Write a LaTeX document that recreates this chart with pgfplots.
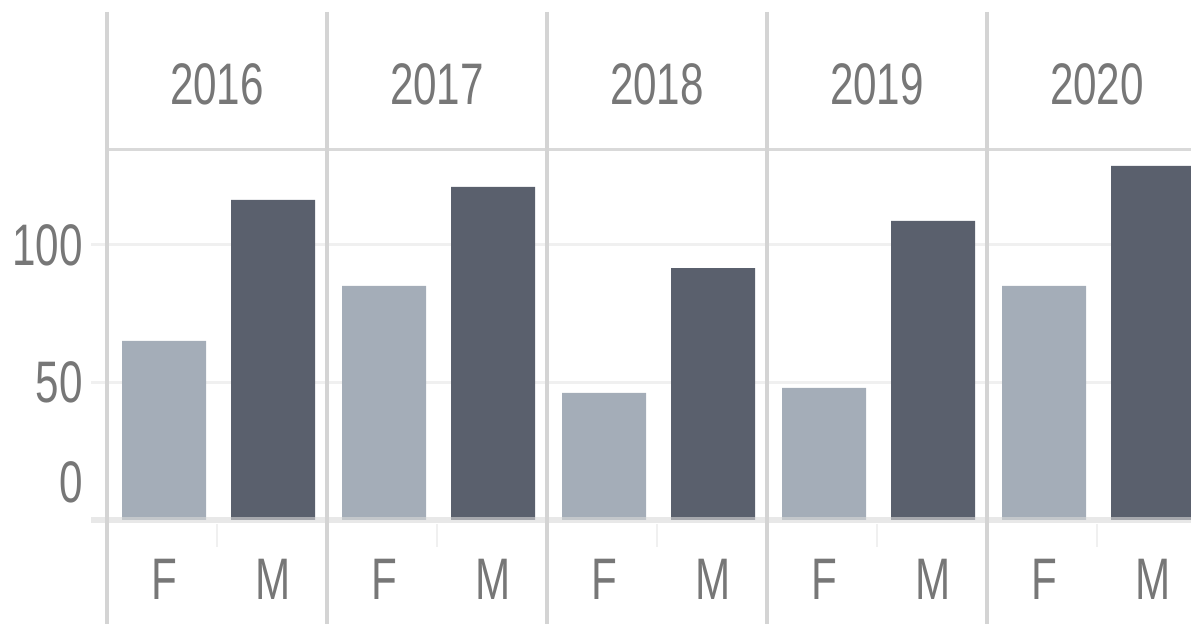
\documentclass[border=0pt]{standalone}
\usepackage{pgfplots}
\pgfplotsset{compat=1.18}
\usepackage{fontspec}
\setmainfont{Liberation Sans}
\newfontfamily\tabfont[FakeStretch=0.72]{Liberation Sans}
\definecolor{barF}{HTML}{A4ADB8}
\definecolor{barM}{HTML}{5A606D}
\definecolor{txt}{HTML}{777777}
\definecolor{divider}{HTML}{D4D4D4}
\definecolor{gridc}{HTML}{F0F0F0}
\definecolor{basec}{HTML}{D9D9D9}
\definecolor{headc}{HTML}{D9D9D9}
\newcommand{\lab}{\tabfont\fontsize{29.3}{30}\selectfont}
\begin{document}
\begin{tikzpicture}
\begin{axis}[
  at={(0pt,0pt)}, anchor=south west,
  scale only axis, width=550pt, height=185pt,
  xmin=-0.1455, xmax=9.855, ymin=0, ymax=134.5,
  clip=false,
  axis line style={draw=none},
  tick style={draw=none},
  ybar, bar width=42pt,
  ytick={50,100}, yticklabels={50,100},
  extra y ticks={13.8}, extra y tick labels={0}, extra y tick style={grid=none},
  ymajorgrids, grid style={gridc, line width=1.5pt},
  xtick={0.52,1.51,2.52,3.51,4.52,5.51,6.52,7.51,8.52,9.51},
  xticklabels={F,M,F,M,F,M,F,M,F,M},
  tick label style={font=\lab, text=txt},
  /pgf/number format/assume math mode=true,
  yticklabel style={anchor=east, inner sep=0pt, xshift=-4pt},
  xticklabel style={anchor=north, inner sep=0pt, yshift=-15pt},
]
\addplot[fill=barF, draw=none, bar shift=0pt] coordinates {(0.52,65.1) (2.52,85.1) (4.52,46.2) (6.52,48) (8.52,85.1)};
\addplot[fill=barM, draw=none, bar shift=0pt] coordinates {(1.51,116.4) (3.51,121.1) (5.51,91.6) (7.51,108.7) (9.51,128.7)};
% baseline
\draw[basec, opacity=0.6, line width=3pt] (axis cs:-0.1455,0) -- (axis cs:9.855,0);
% faint minor ticks
\pgfplotsinvokeforeach{1,3,5,7,9}{\draw[gridc, line width=1pt] (axis cs:#1,-1.5) -- (axis cs:#1,-9.8);}
% header line
\draw[headc, line width=1.5pt] (axis cs:-0.02,134.5) -- (axis cs:9.9,134.5);
% dividers
\pgfplotsinvokeforeach{0,2,4,6,8}{\draw[divider, line width=1.75pt] (axis cs:#1,184.7) -- (axis cs:#1,-38);}
% year headers
\node[font=\lab, text=txt] at (axis cs:1,158.2) {2016};
\node[font=\lab, text=txt] at (axis cs:3,158.2) {2017};
\node[font=\lab, text=txt] at (axis cs:5,158.2) {2018};
\node[font=\lab, text=txt] at (axis cs:7,158.2) {2019};
\node[font=\lab, text=txt] at (axis cs:9,158.2) {2020};
\end{axis}
\pgfresetboundingbox
\path[use as bounding box] (-45.5pt,-52pt) rectangle (550pt,260pt);
\end{tikzpicture}
\end{document}
